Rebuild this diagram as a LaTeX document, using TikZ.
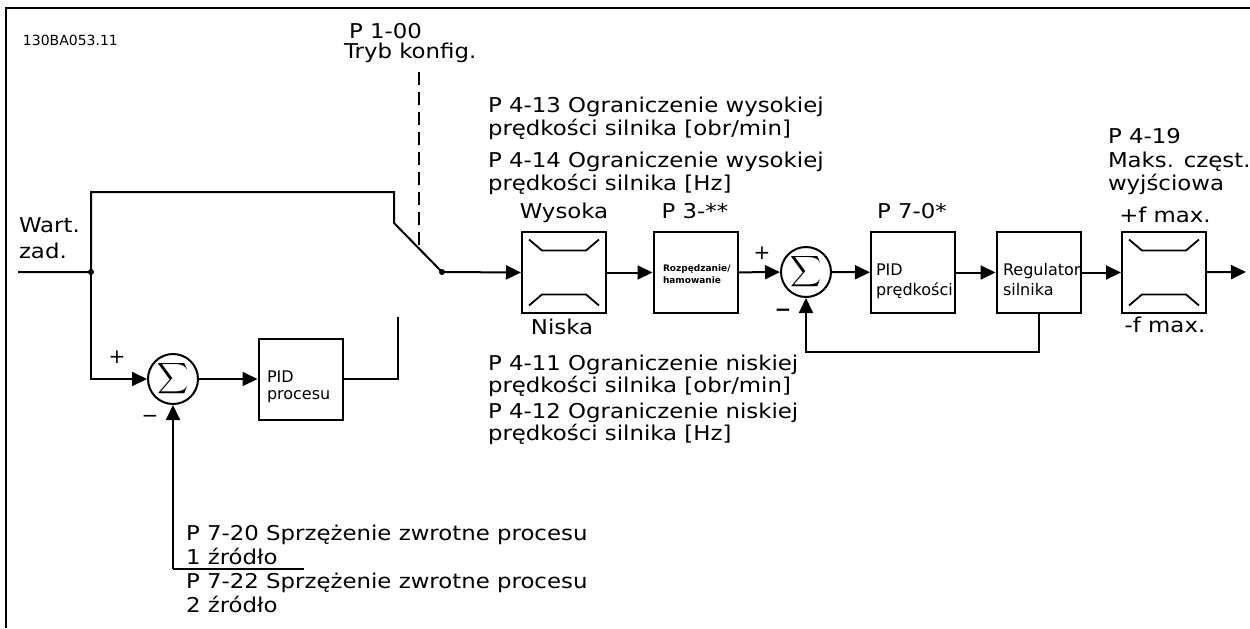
\documentclass[tikz,border=0pt]{standalone}
\usepackage{fontspec}
\usepackage{graphicx}
\setmainfont{DejaVu Sans}
\newfontfamily\lblfont[FakeStretch=1.12]{DejaVu Sans}
\usetikzlibrary{arrows.meta}
\newcommand{\bigsig}{\scalebox{1.08}{$\displaystyle\sum$}}
\begin{document}
\begin{tikzpicture}[x=0.5pt,y=-0.5pt, line width=1pt,
 arr/.style={-{Triangle[length=7.5pt,width=7pt]}},
 box/.style={draw, minimum width=42pt, minimum height=40.5pt, inner sep=0},
 sumc/.style={draw, circle, minimum size=25pt, inner sep=0},
 lbl/.style={inner sep=0, anchor=base west, font=\lblfont\fontsize{10.2}{11}\selectfont},
 clbl/.style={lbl, anchor=base},
 inl/.style={inner sep=0, anchor=base west, font=\fontsize{8}{9}\selectfont},
 tiny/.style={inner sep=0, anchor=base west, font=\fontsize{4.5}{5}\selectfont\bfseries},
 sgn/.style={inner sep=0, font=\fontsize{10}{10}\selectfont},
 dotc/.style={circle, fill, inner sep=0, minimum size=3pt},
 lim/.pic={\draw[line width=0.9pt] (-35,-33)--(-22,-22)--(22,-22)--(35,-33);
           \draw[line width=0.9pt] (-35,33)--(-22,22)--(22,22)--(35,33);}]
\useasboundingbox (0,0) rectangle (1250,628);
% frame
\draw[line width=1.3pt] (6,628) -- (6,8) -- (1250,8);
\node[inner sep=0, anchor=base west, font=\fontsize{7}{8}\selectfont] (code) at (22,45) {130BA053.11};

% main nodes
\node[box] (lim1) at (564,272.5) {};
\pic at (lim1) {lim};
\node[box] (ramp) at (695.5,272.5) {};
\node[box] (pidv) at (913,272.5) {};
\node[box] (reg) at (1038.5,272.5) {};
\node[box] (lim2) at (1164,272.5) {};
\pic at (lim2) {lim};
\node[box] (pidp) at (300.5,379) {};
\node[sumc] (s1) at (173,379) {};
\node[inner sep=0] (sig1) at (s1) {\bigsig};
\node[sumc] (s2) at (806,272) {};
\node[inner sep=0] (sig2) at (s2) {\bigsig};

% coordinates
\coordinate (in) at (18,272);
\node[dotc] (j1) at (91,272) {};
\node[dotc] (sw) at (442,272) {};
\coordinate (tl) at (91,192);
\coordinate (tr) at (394,192);
\coordinate (kn) at (394,223);
\coordinate (c2) at (398,317);
\coordinate (fb1) at (173,569);
\coordinate (fb1e) at (304,569);
\coordinate (fb2) at (806,352);
\coordinate (out) at (1246,272);
\coordinate (d1) at (419,72);
\coordinate (d2) at (419,248);

% connectors
\draw (in) -- (j1.center) -- (tl) -- (tr) -- (kn) -- (sw.center);
\draw[arr] (j1.center) |- (s1.west);
\draw[arr] (s1) -- (pidp);
\draw (pidp.east) -| (c2);
\draw (fb1e) -- (fb1);
\draw[arr] (fb1) -- (s1.south);
\draw[arr] (sw.center) -- (lim1.west);
\draw[arr] (lim1) -- (ramp);
\draw[arr] (ramp) -- (s2);
\draw[arr] (s2) -- (pidv);
\draw[arr] (pidv) -- (reg);
\draw[arr] (reg) -- (lim2);
\draw[arr] (lim2) -- (out);
\draw[arr] (reg.south) |- (fb2) -- (s2.south);
\draw[dash pattern=on 6.5pt off 3.5pt] (d1) -- (d2);

% signs
\node[sgn] (p1) at (117,357) {+};
\node[sgn] (m1) at (150,419) {−};
\node[sgn] (p2) at (762,253) {+};
\node[sgn, font=\fontsize{10}{10}\selectfont\bfseries] (m2) at (783,313) {−};

% labels
\node[lbl] (t1) at (348,38) {P 1-00};
\node[lbl] (t2) at (343,58) {Tryb konfig.};
\node[lbl] (t3) at (487,112) {P 4-13 Ograniczenie wysokiej};
\node[lbl] (t4) at (487,135) {prędkości silnika [obr/min]};
\node[lbl] (t5) at (487,167) {P 4-14 Ograniczenie wysokiej};
\node[lbl] (t6) at (487,190) {prędkości silnika [Hz]};
\node[lbl] (t7) at (487,370) {P 4-11 Ograniczenie niskiej};
\node[lbl] (t8) at (487,392) {prędkości silnika [obr/min]};
\node[lbl] (t9) at (487,418) {P 4-12 Ograniczenie niskiej};
\node[lbl] (t10) at (487,440) {prędkości silnika [Hz]};
\node[lbl] (t11) at (1107,143) {P 4-19};
\node[lbl] (t12) at (1107,167) {Maks. częst.};
\node[lbl] (t13) at (1107,190) {wyjściowa};
\node[lbl] (t14) at (18,232) {Wart.};
\node[lbl] (t15) at (18,258) {zad.};
\node[clbl] (t16) at (564,218) {Wysoka};
\node[clbl] (t17) at (562,334) {Niska};
\node[clbl] (t18) at (695,218) {P 3-**};
\node[clbl] (t19) at (912,218) {P 7-0*};
\node[clbl] (t20) at (1165,222) {+f max.};
\node[clbl] (t21) at (1165,332) {-f max.};
\node[lbl] (t22) at (185,540) {P 7-20 Sprzężenie zwrotne procesu};
\node[lbl] (t23) at (185,564) {1 źródło};
\node[lbl] (t24) at (185,588) {P 7-22 Sprzężenie zwrotne procesu};
\node[lbl] (t25) at (185,612) {2 źródło};
% box texts
\node[inl] (b1) at (266,382) {PID};
\node[inl] (b2) at (266,399) {procesu};
\node[inl] (b3) at (875,275) {PID};
\node[inl] (b4) at (875,295) {prędkości};
\node[inl] (b5) at (1002,275) {Regulator};
\node[inl] (b6) at (1002,295) {silnika};
\node[tiny] (b7) at (662,271) {Rozpędzanie/};
\node[tiny] (b8) at (662,283) {hamowanie};
\end{tikzpicture}
\end{document}
